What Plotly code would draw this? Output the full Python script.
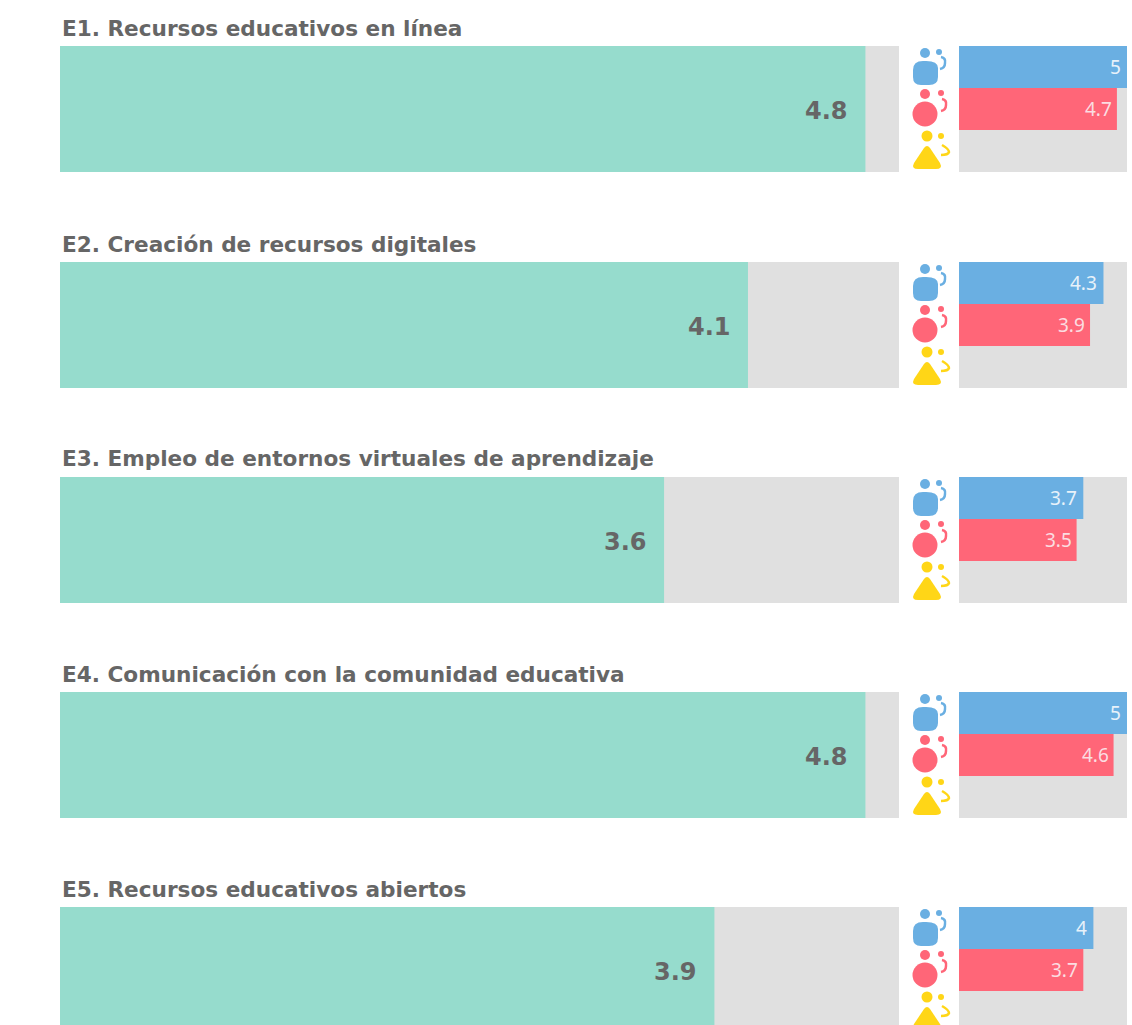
import plotly.graph_objects as go

# Data
titles = ["E1. Recursos educativos en línea", "E2. Creación de recursos digitales",
          "E3. Empleo de entornos virtuales de aprendizaje",
          "E4. Comunicación con la comunidad educativa", "E5. Recursos educativos abiertos"]
total = [4.8, 4.1, 3.6, 4.8, 3.9]
boys = [5, 4.3, 3.7, 5, 4]
girls = [4.7, 3.9, 3.5, 4.6, 3.7]
other = [None, None, None, None, None]
scale_max = 5

# Style / layout
W, H = 1132, 1025
tops = [46, 262, 477, 692, 907]
PH = 126
GREEN, GREY, BLUE, PINK, YEL, TXT = "#96DCCD", "#E0E0E0", "#6AAFE2", "#FF6678", "#FFD617", "#666666"
FONT = "DejaVu Sans"
FONT2 = "Noto Sans"

fx = lambda p: p / W
fy = lambda p: 1 - p / H

def P(cmds):
    out = []
    for c in cmds:
        if isinstance(c, str):
            out.append(c)
        else:
            out.append(f"{fx(c[0]):.5f},{fy(c[1]):.5f}")
    return " ".join(out)

def circle(cx, cy, r, col):
    return dict(type="circle", xref="paper", yref="paper", x0=fx(cx - r), x1=fx(cx + r),
                y0=fy(cy + r), y1=fy(cy - r), fillcolor=col, line_width=0, layer="above")

def path(cmds, col=None, stroke=None, w=0):
    d = dict(type="path", xref="paper", yref="paper", path=P(cmds), layer="above")
    if col:
        d["fillcolor"] = col
    else:
        d["fillcolor"] = "rgba(0,0,0,0)"
    d["line"] = dict(color=stroke or "rgba(0,0,0,0)", width=w)
    return d

def icons(t):
    s = []
    # blue
    s += [circle(925, t + 7, 5, BLUE), circle(939, t + 6, 3, BLUE),
          path(["M", (923, t + 15), "Q", (938, t + 14), (938, t + 22), "L", (938, t + 31), "Q", (938, t + 39), (929, t + 39),
                "L", (921, t + 39), "Q", (913, t + 39), (913, t + 31), "L", (913, t + 24), "Q", (913, t + 15), (923, t + 15), "Z"], BLUE),
          path(["M", (941, t + 11), "Q", (946, t + 12), (945, t + 17), "Q", (945, t + 22), (940, t + 23)], None, BLUE, 2.5)]
    # pink
    s += [circle(925, t + 68, 12.5, PINK), circle(925, t + 48, 5, PINK), circle(941, t + 47, 3, PINK),
          path(["M", (942, t + 53), "Q", (947, t + 54), (946, t + 59), "Q", (946, t + 64), (941, t + 65)], None, PINK, 2.5)]
    # yellow
    s += [circle(927, t + 90, 5.5, YEL), circle(941, t + 90, 3, YEL),
          path(["M", (924, t + 102), "Q", (927, t + 98), (930, t + 102), "L", (940, t + 117), "Q", (943, t + 123), (936, t + 123), "L", (918, t + 123),
                "Q", (911, t + 123), (914, t + 117), "Z"], YEL),
          path(["M", (942, t + 99), "Q", (949, t + 103), (949, t + 106), "Q", (948, t + 109), (941, t + 109)], None, YEL, 2.5)]
    return s

fig = go.Figure()
layout = dict(width=W, height=H, margin=dict(l=0, r=0, t=0, b=0), paper_bgcolor="white",
              plot_bgcolor="white", showlegend=False, barmode="overlay",
              font=dict(family=FONT, color=TXT))
shapes, annos = [], []
hide = dict(showgrid=False, zeroline=False, showticklabels=False, ticks="", showline=False, fixedrange=True)
LX = (60, 899)
RX = (959, 1127)

def sfx(n):
    return "" if n == 1 else str(n)

for i, t in enumerate(tops):
    a, b = sfx(2 * i + 1), sfx(2 * i + 2)
    bottom = min(t + PH, H)
    dom = [1 - bottom / H, 1 - t / H]
    frac = (t + PH - bottom) / PH
    layout[f"xaxis{a}"] = dict(domain=[fx(LX[0]), fx(LX[1])], range=[0, scale_max], anchor=f"y{a}", **hide)
    layout[f"yaxis{a}"] = dict(domain=dom, range=[frac, 1], anchor=f"x{a}", **hide)
    layout[f"xaxis{b}"] = dict(domain=[fx(RX[0]), fx(RX[1])], range=[0, scale_max], anchor=f"y{b}", **hide)
    layout[f"yaxis{b}"] = dict(domain=dom, range=[3 * frac, 3], anchor=f"x{b}", **hide)

    shapes.append(dict(type="rect", xref=f"x{a} domain", yref=f"y{a} domain", x0=0, x1=1, y0=0, y1=1,
                       fillcolor=GREY, line_width=0, layer="below"))
    shapes.append(dict(type="rect", xref=f"x{b} domain", yref=f"y{b} domain", x0=0, x1=1, y0=0, y1=1,
                       fillcolor=GREY, line_width=0, layer="below"))

    fig.add_trace(go.Bar(x=[total[i]], y=[0.5], width=[1], orientation="h", marker=dict(color=GREEN, line_width=0),
                         xaxis=f"x{a}", yaxis=f"y{a}", hoverinfo="skip"))
    fig.add_trace(go.Bar(x=[boys[i], girls[i], other[i]], y=[2.5, 1.5, 0.5], width=[1, 1, 1], orientation="h",
                         marker=dict(color=[BLUE, PINK, YEL], line_width=0),
                         xaxis=f"x{b}", yaxis=f"y{b}", hoverinfo="skip"))

    annos.append(dict(xref="paper", yref="paper", x=fx(60), y=fy(t - 18), text=f"<b>{titles[i]}</b>", showarrow=False,
                      xanchor="left", yanchor="middle", font=dict(size=21.6, color=TXT, family=FONT)))
    annos.append(dict(xref=f"x{a}", yref="paper", x=total[i], y=fy(t + 65), text=f"<b>{total[i]}</b>", showarrow=False,
                      xanchor="right", yanchor="middle", xshift=-15, font=dict(size=24, color=TXT, family=FONT)))
    annos.append(dict(xref=f"x{b}", yref="paper", x=boys[i], y=fy(t + 21), text=str(boys[i]), showarrow=False,
                      xanchor="right", yanchor="middle", xshift=-4, font=dict(size=19, color="#E8F2FA", family=FONT2)))
    annos.append(dict(xref=f"x{b}", yref="paper", x=girls[i], y=fy(t + 63), text=str(girls[i]), showarrow=False,
                      xanchor="right", yanchor="middle", xshift=-3, font=dict(size=19, color="#FBDDE1", family=FONT2)))
    shapes += icons(t)

layout["shapes"] = shapes
layout["annotations"] = annos
fig.update_layout(**layout)
fig.write_html("out.html", config=dict(displayModeBar=False),
               post_script="document.body.style.margin='0';document.body.style.overflow='hidden';")
